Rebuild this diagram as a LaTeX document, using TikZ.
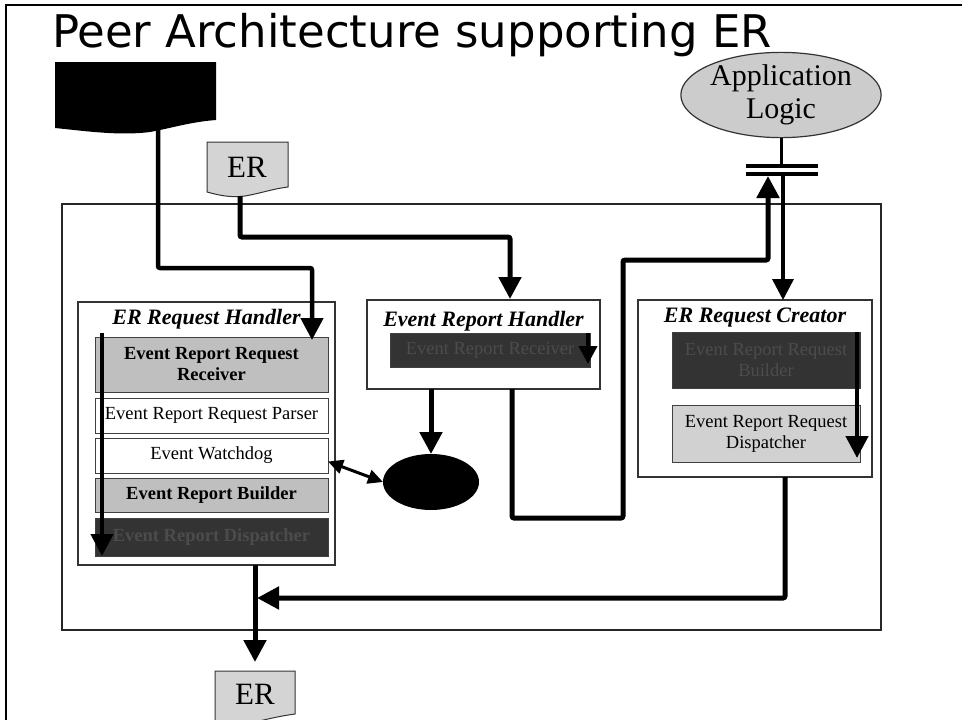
\documentclass[tikz,border=0pt]{standalone}
\usepackage{fontspec}
\setmainfont{Liberation Serif}
\newfontfamily\headfont{DejaVu Sans}
\usetikzlibrary{arrows.meta,shapes.geometric}

\begin{document}
\begin{tikzpicture}[x=1pt,y=-1pt,
  every node/.style={inner sep=0pt, outer sep=0pt},
  module/.style={draw=black!80, line width=1.2pt, fill=white, anchor=north west},
  modtitle/.style={font=\fontsize{22}{24}\selectfont\bfseries\itshape},
  rowtext/.style={font=\fontsize{18.5}{21}\selectfont, align=center, anchor=north west},
  heavy/.style={font=\fontsize{18.5}{21}\selectfont\bfseries},
  lightrow/.style={rowtext, draw=black!75, line width=1pt, fill=black!25},
  plainrow/.style={rowtext, draw=black!75, line width=1pt, fill=white},
  darkrow/.style={rowtext, draw=black!75, line width=1pt, fill=black!80, text=black!70},
  doc/.style={fill=black!17, draw=black!80, line width=1pt},
  doclabel/.style={font=\fontsize{31}{31}\selectfont},
  plate/.style={fill=black, minimum width=72pt, minimum height=4pt},
  flow/.style={line width=5pt, -{Triangle[length=22pt,width=22pt]}, rounded corners=2pt},
  feed/.style={line width=3.5pt, -{Triangle[length=21pt,width=21pt]}},
  dual/.style={line width=3pt, {Triangle[length=15pt,width=14pt]}-{Triangle[length=15pt,width=14pt]}}
]
\useasboundingbox (0,0) rectangle (962,720);
\clip (0,0) rectangle (962,720);
\fill[white] (0,0) rectangle (962,720);

% slide frame and heading
\draw[line width=2pt] (6,725) -- (6,5) -- (970,5);
\node[anchor=base west, font=\headfont\fontsize{45}{50}\selectfont] (heading) at (52,47) {Peer Architecture supporting ER};

% peer container
\node[draw=black!85, line width=1.3pt, minimum width=819pt, minimum height=426pt, anchor=north west] (peer) at (62,204) {};

% external source (black document)
\fill[black] (55,62) -- (216,62) -- (216,120)
  .. controls (190,122) and (172,128) .. (150,132)
  .. controls (120,136) and (85,131) .. (55,128) -- cycle;
\coordinate (srcOut) at (158,128);

% incoming ER document
\filldraw[doc] (207,142) -- (288,142) -- (288,187)
  .. controls (272,189) and (262,193) .. (245,196)
  .. controls (230,198) and (218,195) .. (207,192) -- cycle;
\node[doclabel] (erIn) at (247,167) {ER};
\coordinate (erInOut) at (240,196);

% ER Request Handler
\node[module, minimum width=257pt, minimum height=263pt] (reqHandler) at (78,302) {};
\node[modtitle] (reqHandlerTitle) at (206.5,319) {ER Request Handler};
\node[lightrow, heavy, minimum width=233pt, minimum height=55pt] (recv) at (95,337) {Event Report Request\\Receiver};
\node[plainrow, minimum width=233pt, minimum height=35pt] (parser) at (95,398) {Event Report Request Parser};
\node[plainrow, minimum width=233pt, minimum height=35pt] (watch) at (95,438) {Event Watchdog};
\node[lightrow, heavy, minimum width=233pt, minimum height=34pt] (builder) at (95,478) {Event Report Builder};
\node[darkrow, heavy, minimum width=233pt, minimum height=38pt] (sender) at (95,518) {Event Report Dispatcher};

% Event Report Handler
\node[module, minimum width=233pt, minimum height=89pt] (repHandler) at (367,300) {};
\node[modtitle] (repHandlerTitle) at (483.5,321) {Event Report Handler};
\node[darkrow, minimum width=200pt, minimum height=34pt] (repRecv) at (390,333) {Event Report Receiver};

% ER Request Creator
\node[module, minimum width=234pt, minimum height=177pt] (creator) at (638,300) {};
\node[modtitle] (creatorTitle) at (755,318) {ER Request Creator};
\node[darkrow, minimum width=188pt, minimum height=56pt] (reqBuild) at (672,332) {Event Report Request\\Builder};
\node[plainrow, fill=black!18, minimum width=188pt, minimum height=57pt] (reqSend) at (672,405) {Event Report Request\\Dispatcher};

% event store
\node[ellipse, fill=black, minimum width=96pt, minimum height=56pt] (sink) at (431,482) {};

% application logic and its interface
\node[ellipse, draw=black!80, line width=1.2pt, fill=black!20, minimum width=196pt, minimum height=80pt,
  align=center, font=\fontsize{30}{33}\selectfont] (app) at (781,95) {Application\\Logic};
\node[plate] (plateTop) at (782,166) {};
\node[plate] (plateBot) at (782,174) {};

% outgoing ER document
\filldraw[doc] (215,671) -- (295,671) -- (295,714)
  .. controls (280,716) and (268,719) .. (255,722) -- (215,722) -- cycle;
\node[doclabel] (erOut) at (255,694) {ER};

% connectors
\coordinate (recvIn) at (312,340);
\draw[flow, line width=4.5pt] (srcOut) -- ++(0,140) -| (recvIn);

\coordinate (repIn) at (510,299);
\draw[flow] (erInOut) -- ++(0,41) -| (repIn);

\coordinate (chainTop) at (102,333);
\coordinate (chainEnd) at (102,556);
\draw[flow, line width=4.5pt] (chainTop) -- (chainEnd);

\coordinate (rcvTop) at (588,333);
\coordinate (rcvEnd) at (588,364);
\draw[line width=4pt, -{Triangle[length=18pt,width=18pt]}] (rcvTop) -- (rcvEnd);

\draw[flow] (repHandler.south -| sink) -- (sink.north);
\draw[dual] ([yshift=-6pt]watch.east) -- (sink.west);

\coordinate (repOut) at (512,389);
\coordinate (appIn) at (768,176);
\draw[flow] (repOut) -- ++(0,129) -- ++(111,0) -- ++(0,-258) -| (appIn);

\draw[line width=3pt] (app.south) -- (app.south |- plateTop.north);
\coordinate (feedTop) at (783,176);
\draw[feed] (feedTop) -- (creator.north -| feedTop);

\coordinate (buildTop) at (857,332);
\coordinate (buildEnd) at (857,458);
\draw[flow, line width=4.5pt] (buildTop) -- (buildEnd);

\coordinate (crOut) at (785,477);
\coordinate (mergeIn) at (257,598);
\draw[flow] (crOut) |- (mergeIn);

\coordinate (hOut) at (255,565);
\coordinate (erOutIn) at (255,662);
\draw[flow] (hOut) -- (erOutIn);
\end{tikzpicture}
\end{document}
